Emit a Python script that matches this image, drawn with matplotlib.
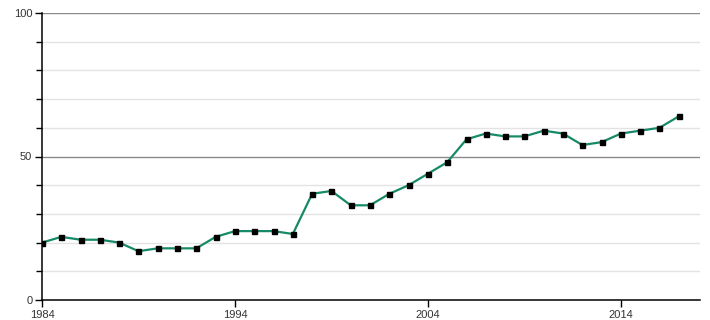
import matplotlib
matplotlib.use("Agg")
import matplotlib.pyplot as plt

years = list(range(1984, 2018))
values = [20, 22, 21, 21, 20, 17, 18, 18, 18, 22, 24, 24, 24, 23, 37, 38, 33, 33,
          37, 40, 44, 48, 56, 58, 57, 57, 59, 58, 54, 55, 58, 59, 60, 64]
x_ticks = [1984, 1994, 2004, 2014]
y_ticks = [0, 50, 100]

plt.rcParams['font.family'] = ['Liberation Sans', 'DejaVu Sans']

fig = plt.figure(figsize=(7.1, 3.2), dpi=100)
ax = fig.add_axes([42/710, 1-300/320, (700-42)/710, (300-13)/320])

for g in range(10, 100, 10):
    if g != 50:
        ax.axhline(g, color='#e3e3e3', lw=1, zorder=0)
for g in (50, 100):
    ax.axhline(g, color='#8a8a8a', lw=1, zorder=1)

ax.plot(years, values, color='#168a68', lw=1.6, zorder=3)
ax.plot(years, values, ls='none', marker='s', ms=3.6, color='black', zorder=4)

ax.set_xlim(1984, 2018.1)
ax.set_ylim(0, 100)
ax.set_xticks(x_ticks)
ax.set_xticklabels([str(t) for t in x_ticks])
ax.set_yticks(y_ticks)
ax.set_yticks(range(0, 101, 10), minor=True)
ax.tick_params(axis='both', labelsize=8, colors='#333333', length=5, width=1, pad=2)
ax.tick_params(axis='both', which='major', color='black')
ax.tick_params(axis='y', which='minor', length=4, width=1, color='black')
for s in ('top', 'right'):
    ax.spines[s].set_visible(False)
for s in ('left', 'bottom'):
    ax.spines[s].set_color('black')
    ax.spines[s].set_linewidth(1.1)

fig.savefig('out.png', dpi=100)
